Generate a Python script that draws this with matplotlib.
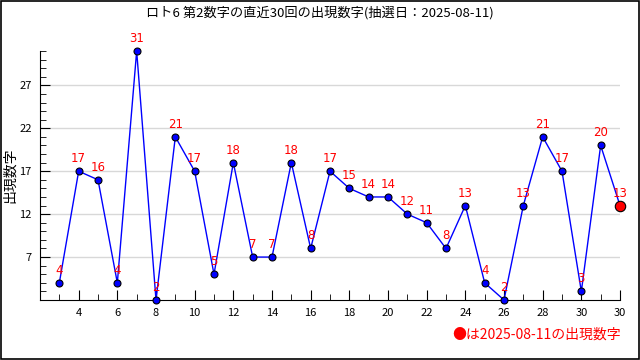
import matplotlib.pyplot as plt
from matplotlib.ticker import MultipleLocator

plt.rcParams['font.family'] = ['Noto Sans CJK JP', 'DejaVu Sans']

# 直近30回の第2数字
draw_no = list(range(3, 33))
numbers = [4, 17, 16, 4, 31, 2, 21, 17, 5, 18, 7, 7, 18, 8, 17,
           15, 14, 14, 12, 11, 8, 13, 4, 2, 13, 21, 17, 3, 20, 13]
x_ticks = list(range(4, 33, 2))
x_tick_labels = [str(t) for t in range(4, 31, 2)] + ['30']
y_ticks = [7, 12, 17, 22, 27]

fig = plt.figure(figsize=(6.4, 3.6), dpi=100)
ax = fig.add_axes([40 / 640, 60 / 360, 580 / 640, 249 / 360])

ax.plot(draw_no, numbers, color='blue', linewidth=1, marker='o', markersize=5,
        markerfacecolor='blue', markeredgecolor='black', markeredgewidth=0.8,
        zorder=3, clip_on=False)
ax.plot(draw_no[-1], numbers[-1], marker='o', markersize=7.5, color='red',
        markeredgecolor='black', markeredgewidth=0.8, zorder=4, clip_on=False)

for x, v in zip(draw_no, numbers):
    ax.text(x, v + 0.7, str(v), color='red', fontsize=8.5, ha='center', va='bottom',
            family='DejaVu Sans', zorder=5)

ax.set_xlim(2, 32)
ax.set_ylim(2, 31)
ax.set_xticks(x_ticks)
ax.set_xticklabels(x_tick_labels)
ax.set_yticks(y_ticks)
ax.xaxis.set_minor_locator(MultipleLocator(1))
ax.yaxis.set_minor_locator(MultipleLocator(1))
ax.tick_params(which='both', direction='in', labelsize=8, pad=6)
ax.tick_params(which='major', length=7)
ax.tick_params(which='minor', length=4)
ax.grid(axis='y', color='#d8d8d8', linewidth=1)
ax.set_axisbelow(True)
for s in ['top', 'right']:
    ax.spines[s].set_visible(False)

ax.set_ylabel('出現数字', fontsize=10)
ax.yaxis.set_label_coords(-0.04, 0.5)
fig.text(0.5, 0.965, 'ロト6 第2数字の直近30回の出現数字(抽選日：2025-08-11)',
         ha='center', va='center', fontsize=9.5)
fig.text(0.97, 0.07, '●は2025-08-11の出現数字', color='red', ha='right',
         va='center', fontsize=10)

# outer frame
fig.patches.append(plt.Rectangle((0.001, 0.002), 0.997, 0.995, transform=fig.transFigure,
                                 fill=False, edgecolor='black', linewidth=1.2))

fig.savefig('out.png', dpi=100)
